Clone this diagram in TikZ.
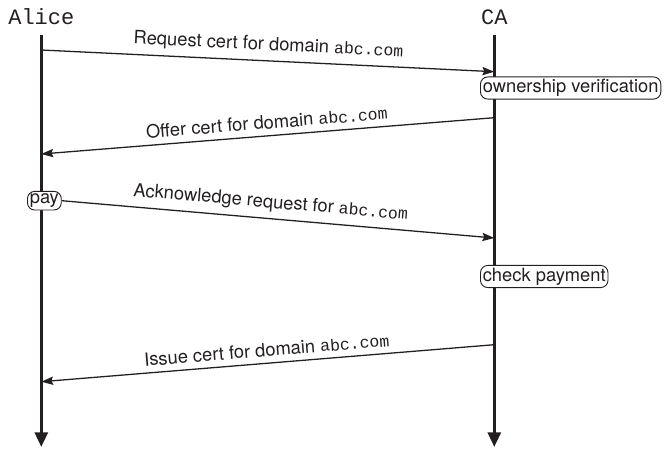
\documentclass[tikz,border=0pt]{standalone}
\usepackage{fontspec}
\setmainfont{TeX Gyre Heros}
\setmonofont{Liberation Mono}
\usetikzlibrary{arrows.meta}
\definecolor{inkline}{RGB}{35,31,32}
\newcommand{\dom}{{\small\texttt{abc.com}}}

\begin{document}
\begin{tikzpicture}[x=0.546pt,y=-0.546pt,
  lifeline/.style={draw=inkline,line width=1.8pt,-{Triangle[length=8pt,width=7pt]}},
  msg/.style={draw=inkline,line width=0.7pt,-{Stealth[length=6.5pt,width=4.5pt,inset=1pt]}},
  party/.style={font=\large\ttfamily,text=inkline},
  action/.style={draw=inkline,fill=white,text=inkline,rounded corners=4pt,inner sep=1.3pt,anchor=west,line width=0.5pt},
  every node/.append style={text=inkline}]
            \useasboundingbox (0,0) rectangle (665,448);
            \node [party] (alice) at (41.3,17) {Alice};
            \node [party] (ca) at (494.3,17) {CA};
            \coordinate (alicetop) at (41.3,35);
            \coordinate (alicebot) at (41.3,447);
            \coordinate (catop) at (494.3,35);
            \coordinate (cabot) at (494.3,447);
            \draw [lifeline] (alicetop) -- (alicebot);
            \draw [lifeline] (catop) -- (cabot);
            \node [action] (verify) at (480,88) {ownership verification};
            \node [action] (pay) at (27,200.7) {pay};
            \node [action] (checkpay) at (480,276.5) {check payment};
            \coordinate (a1) at (41.3,50);
            \coordinate (c1) at (494.3,71.7);
            \draw [msg] (a1) -- node [above,sloped] {Request cert for domain \dom} (c1);
            \coordinate (c2) at (494.3,117.7);
            \coordinate (a2) at (41.3,154);
            \draw [msg] (c2) -- node [above,sloped] {Offer cert for domain \dom} (a2);
            \coordinate (c3) at (494.3,238);
            \draw [msg] (pay.east) -- node [pos=0.48,above,sloped] {Acknowledge request for \dom} (c3);
            \coordinate (c4) at (494.3,344.7);
            \coordinate (a4) at (41.3,381.7);
            \draw [msg] (c4) -- node [above,sloped] {Issue cert for domain \dom} (a4);
\end{tikzpicture}
\end{document}
